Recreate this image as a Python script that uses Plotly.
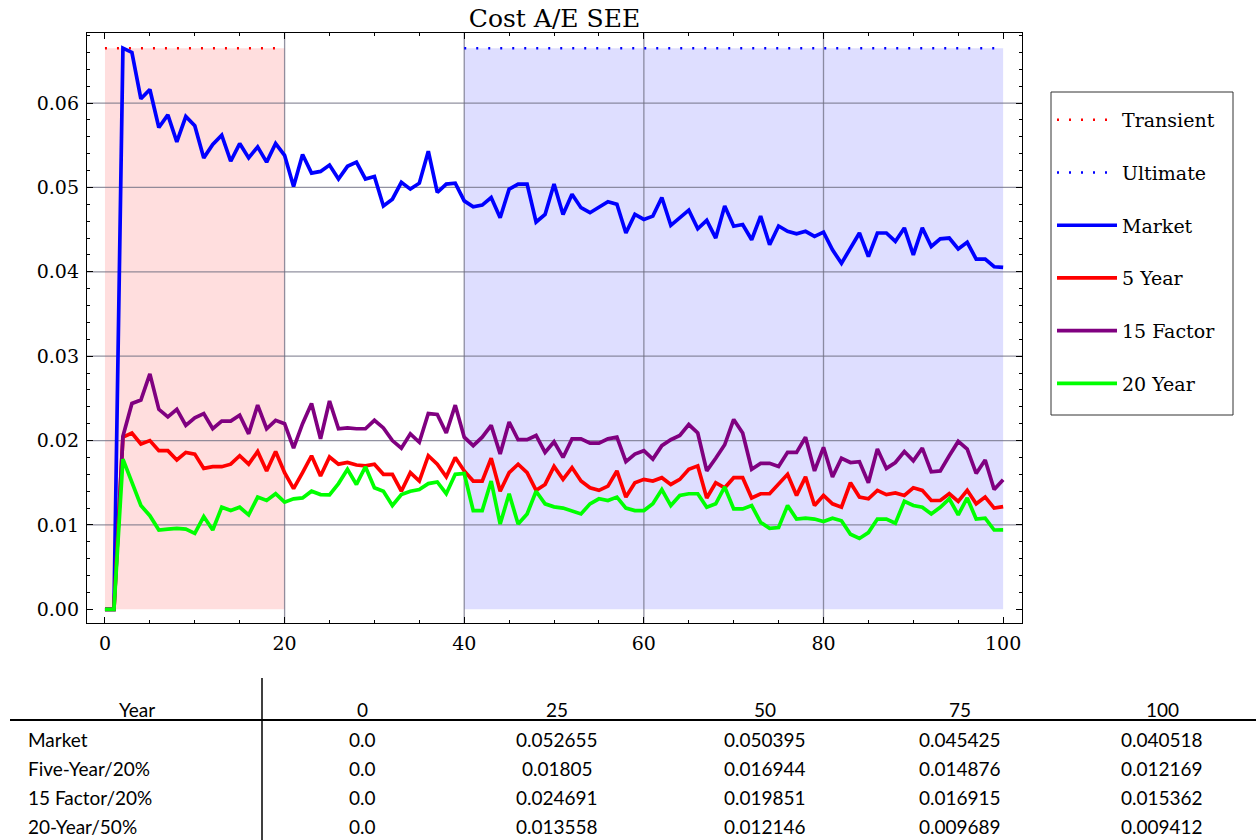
import plotly.graph_objects as go

# ---------------- data ----------------
years = list(range(0, 101))

market = [0, 0, 0.0665, 0.0660, 0.0605, 0.0616, 0.0571, 0.0586, 0.0554, 0.0584,
          0.0573, 0.0535, 0.0551, 0.0562, 0.0531, 0.0552, 0.0535, 0.0548, 0.0530, 0.0552,
          0.0538, 0.0501, 0.0539, 0.0517, 0.0519, 0.052655, 0.0510, 0.0525, 0.0530, 0.0510,
          0.0513, 0.0478, 0.0486, 0.0506, 0.0498, 0.0505, 0.0543, 0.0494, 0.0504, 0.0505,
          0.0484, 0.0477, 0.0479, 0.0488, 0.0464, 0.0498, 0.0504, 0.0504, 0.0459, 0.0468,
          0.050395, 0.0468, 0.0492, 0.0476, 0.0470, 0.0476, 0.0483, 0.0480, 0.0446, 0.0468,
          0.0462, 0.0466, 0.0488, 0.0455, 0.0464, 0.0473, 0.0451, 0.0461, 0.0440, 0.0478,
          0.0454, 0.0456, 0.0438, 0.0466, 0.0432, 0.045425, 0.0448, 0.0445, 0.0448, 0.0442,
          0.0447, 0.0426, 0.0410, 0.0428, 0.0446, 0.0418, 0.0446, 0.0446, 0.0436, 0.0452,
          0.0420, 0.0452, 0.0430, 0.0439, 0.0440, 0.0427, 0.0435, 0.0415, 0.0415, 0.0406,
          0.040518]

five_year = [0, 0, 0.0204, 0.0209, 0.0196, 0.0200, 0.0188, 0.0188, 0.0177, 0.0186,
             0.0184, 0.0167, 0.0169, 0.0169, 0.0172, 0.0182, 0.0172, 0.0187, 0.0164, 0.0187,
             0.0162, 0.0143, 0.0162, 0.0182, 0.0158, 0.01805, 0.0172, 0.0174, 0.0171, 0.0170,
             0.0172, 0.0160, 0.0160, 0.0140, 0.0162, 0.0152, 0.0182, 0.0172, 0.0157, 0.0180,
             0.0164, 0.0152, 0.0152, 0.0179, 0.0140, 0.0162, 0.0172, 0.0162, 0.0141, 0.0148,
             0.016944, 0.0154, 0.0168, 0.0152, 0.0144, 0.0141, 0.0146, 0.0164, 0.0133, 0.0150,
             0.0154, 0.0152, 0.0156, 0.0148, 0.0154, 0.0166, 0.0170, 0.0132, 0.0150, 0.0144,
             0.0156, 0.0156, 0.0132, 0.0137, 0.0137, 0.014876, 0.0160, 0.0135, 0.0157, 0.0123,
             0.0135, 0.0125, 0.0121, 0.0150, 0.0133, 0.0131, 0.0141, 0.0136, 0.0138, 0.0135,
             0.0144, 0.0141, 0.0129, 0.0129, 0.0137, 0.0128, 0.0141, 0.0125, 0.0133, 0.0120,
             0.012169]

fifteen_factor = [0, 0, 0.0205, 0.0244, 0.0248, 0.0279, 0.0237, 0.0228, 0.0237, 0.0218,
                  0.0227, 0.0232, 0.0214, 0.0223, 0.0223, 0.0230, 0.0208, 0.0242, 0.0214, 0.0224,
                  0.0220, 0.0191, 0.0220, 0.0244, 0.0202, 0.024691, 0.0214, 0.0215, 0.0214, 0.0214,
                  0.0224, 0.0215, 0.0200, 0.0191, 0.0208, 0.0198, 0.0232, 0.0231, 0.0209, 0.0242,
                  0.0204, 0.0194, 0.0204, 0.0218, 0.0184, 0.0222, 0.0201, 0.0201, 0.0206, 0.0186,
                  0.019851, 0.0180, 0.0202, 0.0202, 0.0197, 0.0197, 0.0202, 0.0204, 0.0175, 0.0184,
                  0.0188, 0.0178, 0.0194, 0.0201, 0.0206, 0.0219, 0.0209, 0.0164, 0.0179, 0.0195,
                  0.0225, 0.0209, 0.0166, 0.0173, 0.0173, 0.016915, 0.0186, 0.0186, 0.0204, 0.0164,
                  0.0192, 0.0157, 0.0179, 0.0174, 0.0175, 0.0150, 0.0190, 0.0167, 0.0174, 0.0187,
                  0.0176, 0.0191, 0.0163, 0.0164, 0.0182, 0.0199, 0.0190, 0.0161, 0.0177, 0.0142,
                  0.015362]

twenty_year = [0, 0, 0.0178, 0.0149, 0.0123, 0.0111, 0.0094, 0.0095, 0.0096, 0.0095,
               0.0090, 0.0110, 0.0094, 0.0121, 0.0117, 0.0121, 0.0112, 0.0133, 0.0129, 0.0137,
               0.0127, 0.0131, 0.0132, 0.0140, 0.0136, 0.013558, 0.0149, 0.0166, 0.0148, 0.0169,
               0.0144, 0.0140, 0.0123, 0.0136, 0.0140, 0.0142, 0.0149, 0.0151, 0.0137, 0.0160,
               0.0161, 0.0117, 0.0117, 0.0152, 0.0101, 0.0137, 0.0101, 0.0113, 0.0140, 0.0125,
               0.012146, 0.0120, 0.0117, 0.0113, 0.0125, 0.0131, 0.0129, 0.0133, 0.0120, 0.0117,
               0.0117, 0.0125, 0.0142, 0.0123, 0.0135, 0.0137, 0.0137, 0.0121, 0.0125, 0.0145,
               0.0119, 0.0119, 0.0123, 0.0103, 0.0096, 0.009689, 0.0123, 0.0107, 0.0108, 0.0107,
               0.0104, 0.0108, 0.0105, 0.0089, 0.0084, 0.0091, 0.0107, 0.0107, 0.0102, 0.0128,
               0.0123, 0.0121, 0.0113, 0.0121, 0.0131, 0.0112, 0.0132, 0.0107, 0.0108, 0.0094,
               0.009412]

transient_span = [0, 20]
ultimate_span = [40, 100]
ceiling_level = 0.0665

table_header = "Year"
table_years = [0, 25, 50, 75, 100]
table_labels = ["Market", "Five-Year/20%", "15 Factor/20%", "20-Year/50%"]
table_market = [0.0, 0.052655, 0.050395, 0.045425, 0.040518]
table_five_year = [0.0, 0.01805, 0.016944, 0.014876, 0.012169]
table_fifteen_factor = [0.0, 0.024691, 0.019851, 0.016915, 0.015362]
table_twenty_year = [0.0, 0.013558, 0.012146, 0.009689, 0.009412]

# ---------------- layout helpers ----------------
W, H = 1256, 840
L, R, T, B = 87, 1022, 33, 623
X_RANGE = [-2, 102.1]
Y_RANGE = [-0.00162, 0.0683]


def px_x(px):
    return (px - L) / (R - L)


def px_y(py):
    return (B - py) / (B - T)


SERIF = "DejaVu Serif"
SANS = "Lato"

fig = go.Figure()

# reference levels (dotted)
fig.add_trace(go.Scatter(x=transient_span, y=[ceiling_level] * 2, mode="lines",
                         name="Transient", legendgroup="a",
                         line=dict(color="#ff0000", width=2.5, dash="2px,10px")))
fig.add_trace(go.Scatter(x=ultimate_span, y=[ceiling_level] * 2, mode="lines",
                         name="Ultimate", legendgroup="b",
                         line=dict(color="#0000ff", width=2.5, dash="2px,10px")))

series = [("Market", market, "#0000ff"),
          ("5 Year", five_year, "#ff0000"),
          ("15 Factor", fifteen_factor, "#800080"),
          ("20 Year", twenty_year, "#00ff00")]
for i, (nm, vals, col) in enumerate(series):
    fig.add_trace(go.Scatter(x=years, y=vals, mode="lines", name=nm,
                             legendgroup="s%d" % i,
                             line=dict(color=col, width=3.7)))

shapes = []
# shaded regions
shapes.append(dict(type="rect", xref="x", yref="y", layer="below",
                   x0=transient_span[0], x1=transient_span[1], y0=0, y1=ceiling_level,
                   fillcolor="#ffdede", line=dict(width=0)))
shapes.append(dict(type="rect", xref="x", yref="y", layer="below",
                   x0=ultimate_span[0], x1=ultimate_span[1], y0=0, y1=ceiling_level,
                   fillcolor="#dedeff", line=dict(width=0)))
# interior grid lines (same subplot layer, drawn after the shading)
GRID = dict(color="rgba(110,110,130,0.75)", width=1.3)
for gx in [20, 40, 60, 80]:
    shapes.append(dict(type="line", xref="x", yref="y", layer="below",
                       x0=gx, x1=gx, y0=Y_RANGE[0], y1=Y_RANGE[1], line=GRID))
for gy in [0.01, 0.02, 0.03, 0.04, 0.05, 0.06]:
    shapes.append(dict(type="line", xref="x", yref="y", layer="below",
                       x0=X_RANGE[0], x1=X_RANGE[1], y0=gy, y1=gy, line=GRID))

# legend frame
shapes.append(dict(type="rect", xref="paper", yref="paper", layer="above",
                   x0=px_x(1051), x1=px_x(1233), y0=px_y(92), y1=px_y(415),
                   line=dict(color="#333333", width=1), fillcolor="rgba(0,0,0,0)"))

# table lines
shapes.append(dict(type="line", xref="paper", yref="paper",
                   x0=px_x(262), x1=px_x(262), y0=px_y(678), y1=px_y(840),
                   line=dict(color="black", width=1.5)))
shapes.append(dict(type="line", xref="paper", yref="paper",
                   x0=px_x(10), x1=px_x(1256), y0=px_y(720), y1=px_y(720),
                   line=dict(color="black", width=2)))

annotations = []
col_centers = [362, 557, 765, 960, 1162]
row_ys = [739, 768, 797, 826]
tfont = dict(family=SANS, size=19, color="black")
annotations.append(dict(text=table_header, xref="paper", yref="paper",
                        x=px_x(137), y=px_y(709), xanchor="center", yanchor="middle",
                        showarrow=False, font=tfont))
for cx, yr in zip(col_centers, table_years):
    annotations.append(dict(text=str(yr), xref="paper", yref="paper",
                            x=px_x(cx), y=px_y(709), xanchor="center", yanchor="middle",
                            showarrow=False, font=tfont))
table_rows = [table_market, table_five_year, table_fifteen_factor, table_twenty_year]
for ry, lab, row in zip(row_ys, table_labels, table_rows):
    annotations.append(dict(text=lab, xref="paper", yref="paper",
                            x=px_x(26), y=px_y(ry), xanchor="left", yanchor="middle",
                            showarrow=False, font=tfont))
    for cx, v in zip(col_centers, row):
        annotations.append(dict(text=str(v), xref="paper", yref="paper",
                                x=px_x(cx), y=px_y(ry), xanchor="center", yanchor="middle",
                                showarrow=False, font=tfont))

axis_common = dict(showline=True, linecolor="black", linewidth=1.3, mirror="ticks",
                   ticks="inside", ticklen=6, tickwidth=1, tickcolor="black",
                   showgrid=False, zeroline=False, ticklabelstandoff=3,
                   tickfont=dict(family=SERIF, size=19, color="black"))

fig.update_layout(
    width=W, height=H,
    margin=dict(l=L, r=W - R, t=T, b=H - B),
    paper_bgcolor="white", plot_bgcolor="white",
    title=dict(text="Cost A/E SEE", x=0.5, xref="paper", y=1 - 18 / H, yanchor="middle",
               font=dict(family=SERIF, size=25, color="black")),
    xaxis=dict(range=X_RANGE, tick0=0, dtick=20,
               minor=dict(ticks="inside", ticklen=3, dtick=5, tick0=0, tickcolor="black"),
               **axis_common),
    yaxis=dict(range=Y_RANGE, tick0=0, dtick=0.01, tickformat=".2f",
               minor=dict(ticks="inside", ticklen=3, dtick=0.002, tick0=0, tickcolor="black"),
               **axis_common),
    legend=dict(x=px_x(1052), y=px_y(101), xanchor="left", yanchor="top",
                borderwidth=0, bgcolor="rgba(0,0,0,0)",
                font=dict(family=SERIF, size=19, color="black"),
                tracegroupgap=25, itemwidth=60),
    shapes=shapes,
    annotations=annotations,
    showlegend=True,
)

fig.write_html("out.html")
